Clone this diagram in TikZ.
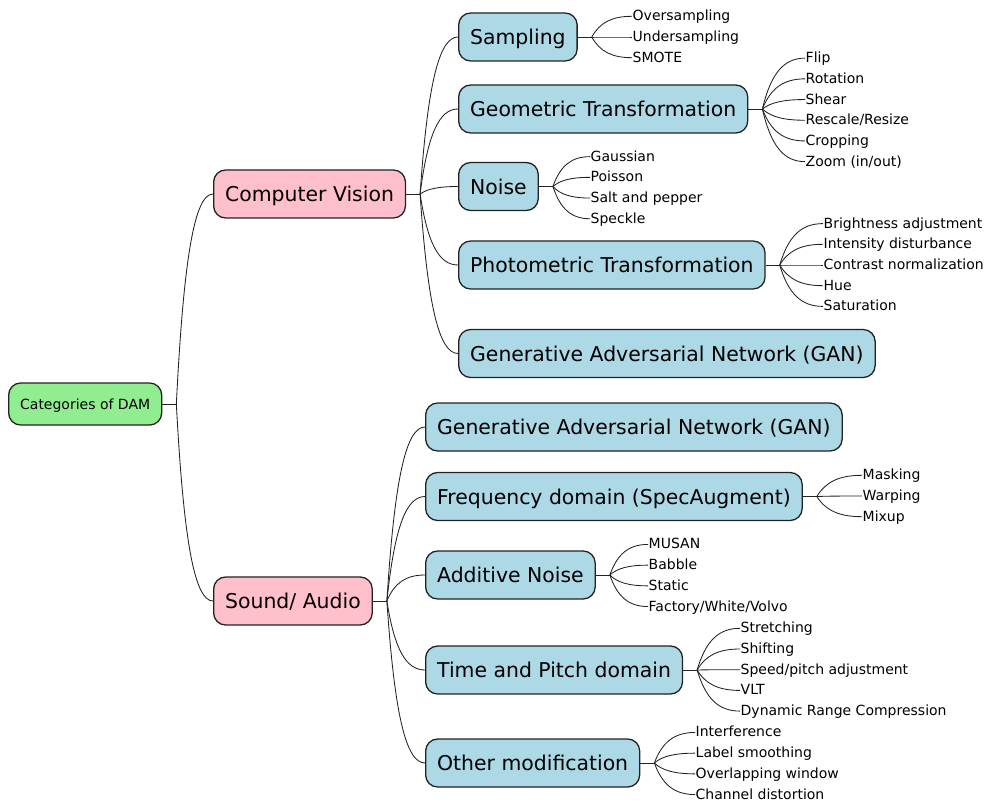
\documentclass[tikz,border=0pt]{standalone}
\usepackage{fontspec}
\setmainfont{DejaVu Sans}
\usetikzlibrary{calc}

\definecolor{rootfill}{HTML}{90EE90}
\definecolor{catfill}{HTML}{FFC0CB}
\definecolor{topicfill}{HTML}{ADD8E6}
\definecolor{linecol}{HTML}{222222}

\tikzset{
  mapbox/.style={draw=linecol, line width=1.3pt, rounded corners=12pt, anchor=west,
    inner xsep=11.5pt, inner ysep=0pt, minimum height=48pt,
    font=\fontsize{20.4}{24}\selectfont, text height=17.5pt, text depth=2pt},
  rootbox/.style={mapbox, fill=rootfill, minimum height=42pt, inner xsep=11.5pt,
    font=\fontsize{14}{17}\selectfont, text height=12pt, text depth=1.5pt},
  catbox/.style={mapbox, fill=catfill},
  topicbox/.style={mapbox, fill=topicfill},
  leaf/.style={anchor=west, inner xsep=0.5pt, inner ysep=0pt,
    font=\fontsize{14}{17}\selectfont, text height=11pt, text depth=2pt},
  link/.style={draw=linecol, line width=0.85pt},
  fan/.style={to path={let \p1=(\tikztostart), \p2=(\tikztotarget) in
    .. controls ({\x1+0.2*(\x2-\x1)},{\y1+0.7*(\y2-\y1)}) and ({\x1+0.5*(\x2-\x1)},\y2) .. (\tikztotarget)}},
}

% short stub out of a parent box, ending in its branch point
\newcommand\branchfrom[1]{%
  \coordinate (#1b) at ($(#1.east)+(14pt,0)$);
  \draw[link] (#1.east) -- (#1b);
}

% a fan of plain-text leaves: parent, text x, centre y, count, texts
\newcommand\leafgroup[5]{%
  \branchfrom{#1}
  \foreach \t [count=\k] in {#5}{
    \node[leaf] (#1-\k) at (#2,{#3+(\k-(#4+1)/2)*20.7}) {\t};
    \draw[link] (#1b) to[fan] (#1-\k.west);
  }
}

\begin{document}
\begin{tikzpicture}[x=1pt,y=-1pt]
\useasboundingbox (0,0) rectangle (995,802);

% root and the two categories
\node[rootbox] (root) at (8,404) {Categories of DAM};
\node[catbox] (cv) at (213,194) {Computer Vision};
\node[catbox] (snd) at (213,601) {Sound/ Audio};

\branchfrom{root}
\draw[link] (rootb) to[fan] (cv.west);
\draw[link] (rootb) to[fan] (snd.west);

% computer vision topics
\node[topicbox] (samp)  at (458,37)    {Sampling};
\node[topicbox] (geo)   at (458,109)   {Geometric Transformation};
\node[topicbox] (noise) at (458,186.5) {Noise};
\node[topicbox] (photo) at (458,265)   {Photometric Transformation};
\node[topicbox] (gana)  at (458,353.5) {Generative Adversarial Network (GAN)};

\branchfrom{cv}
\foreach \tp in {samp,geo,noise,photo,gana}
  \draw[link] (cvb) to[fan] (\tp.west);

% sound / audio topics
\node[topicbox] (ganb)  at (425,427)   {Generative Adversarial Network (GAN)};
\node[topicbox] (freq)  at (425,496.5) {Frequency domain (SpecAugment)};
\node[topicbox] (addn)  at (425,575)   {Additive Noise};
\node[topicbox] (timep) at (425,670)   {Time and Pitch domain};
\node[topicbox] (other) at (425,763)   {Other modification};

\branchfrom{snd}
\foreach \tp in {ganb,freq,addn,timep,other}
  \draw[link] (sndb) to[fan] (\tp.west);

% leaves
\leafgroup{samp}{632}{37}{3}{Oversampling,Undersampling,SMOTE}
\leafgroup{geo}{805}{109.9}{6}{Flip,Rotation,Shear,Rescale/Resize,Cropping,Zoom (in/out)}
\leafgroup{noise}{590}{187.7}{4}{Gaussian,Poisson,Salt and pepper,Speckle}
\leafgroup{photo}{823}{265}{5}{Brightness adjustment,Intensity disturbance,Contrast normalization,Hue,Saturation}
\leafgroup{freq}{862}{496}{3}{Masking,Warping,Mixup}
\leafgroup{addn}{648}{575.5}{4}{MUSAN,Babble,Static,Factory/White/Volvo}
\leafgroup{timep}{740}{669.7}{5}{Stretching,Shifting,Speed/pitch adjustment,VLT,Dynamic Range Compression}
\leafgroup{other}{695}{763.5}{4}{Interference,Label smoothing,Overlapping window,Channel distortion}
\end{tikzpicture}
\end{document}
